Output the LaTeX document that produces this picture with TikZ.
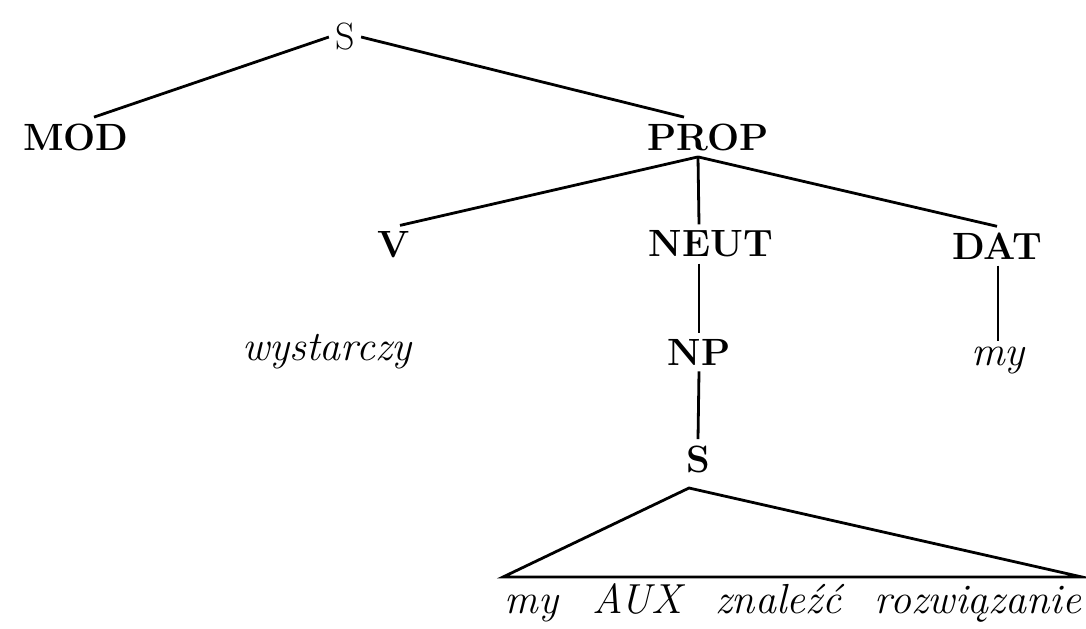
\documentclass[tikz,border=0pt]{standalone}
\usepackage{tikz}
\usetikzlibrary{positioning}

\begin{document}
\begin{tikzpicture}[x=0.5pt, y=-0.5pt, line width=1.4pt]
	\tikzset{
		kategoria/.style={font=\fontsize{19}{23}\selectfont\bfseries, inner sep=2.5pt},
		korzen/.style={font=\fontsize{19}{23}\selectfont, inner sep=2.5pt},
		wyraz/.style={font=\fontsize{21}{25}\selectfont\itshape, inner sep=2.5pt}
	}
	\useasboundingbox (0,0) rectangle (1086,628);
	\node[korzen] (s0) at (345,37) {S};
	\node[kategoria] (mod) at (76,137) {MOD};
	\node[kategoria] (prop) at (708,137) {PROP};
	\node[kategoria] (v) at (394,245) {V};
	\node[kategoria] (neut) at (711,244) {NEUT};
	\node[kategoria] (dat) at (997,246) {DAT};
	\node[wyraz] (wyst) at (327,352) {wystarczy};
	\node[kategoria] (np) at (699,352) {NP};
	\node[wyraz] (my) at (998,361) {my};
	\node[kategoria] (s1) at (698,459) {S};
	\node[wyraz, anchor=base] (zdanie) at (793,613) {my\hspace{0.8em}AUX\hspace{0.8em}znaleźć\hspace{0.8em}rozwiązanie};
	\coordinate (szczyt) at (689,488);
	\coordinate (lewy) at (503,577);
	\coordinate (prawy) at (1082,577);
	\draw (s0.west) -- ([xshift=9pt]mod.north);
	\draw (s0.east) -- ([xshift=-12pt]prop.north);
	\draw ([xshift=-5pt]prop.south) -- ([xshift=3pt]v.north);
	\draw ([xshift=-5pt]prop.south) -- (np.north |- neut.north);
	\draw ([xshift=-5pt]prop.south) -- (dat.north);
	\draw (np.north |- neut.south) -- (np.north);
	\draw (my.north |- dat.south) -- (my.north);
	\draw (np.south) -- (s1.north);
	\draw (szczyt) -- (lewy) -- (prawy) -- cycle;
\end{tikzpicture}
\end{document}
